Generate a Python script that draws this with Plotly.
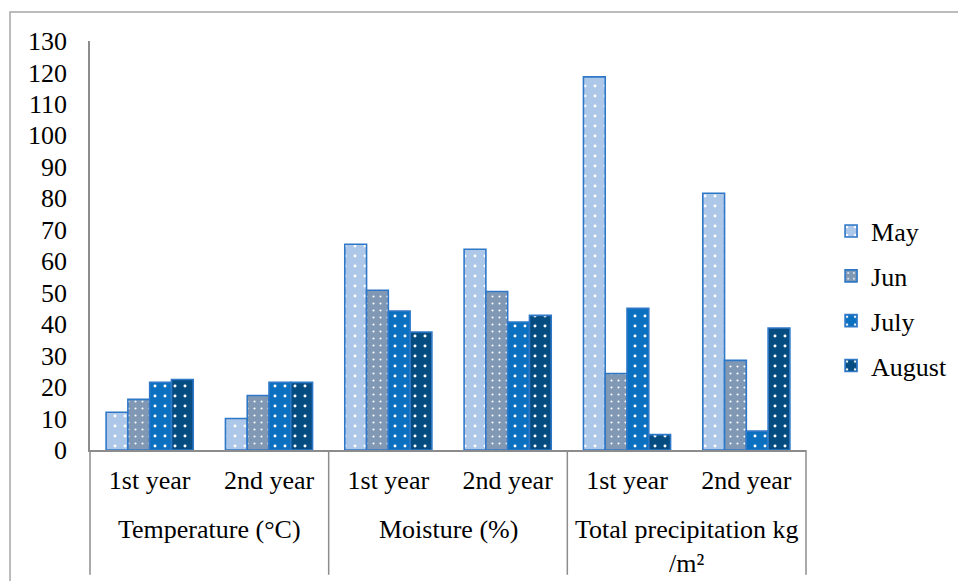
import plotly.graph_objects as go

# Two-level categories: measured parameter and season year
parameters = ["Temperature (°C)", "Moisture (%)", "Total precipitation kg<br>/m²"]
years = ["1st year", "2nd year"]

# Monthly values per parameter/year (order: param1-y1, param1-y2, ...)
may = [12.0, 10.0, 65.4, 63.8, 118.6, 81.6]
jun = [16.1, 17.3, 50.8, 50.4, 24.3, 28.5]
july = [21.5, 21.5, 44.2, 40.7, 45.0, 6.0]
august = [22.4, 21.5, 37.5, 42.8, 4.9, 38.8]

months = ["May", "Jun", "July", "August"]
series = [may, jun, july, august]
fills = ["#adc7e9", "#8098b4", "#0a70bf", "#054c80"]
dot_sizes = [10, 7, 10, 10]

FONT = "Liberation Serif"
AXIS_GREY = "#8c8c8c"

# one x category per parameter/year pair, labelled by year only
keys = [f"{p}|{y}" for p in parameters for y in years]
key_text = [y for _ in parameters for y in years]

fig = go.Figure()
for name, vals, col, ds in zip(months, series, fills, dot_sizes):
    fig.add_trace(go.Bar(
        name=name,
        x=keys,
        y=vals,
        legendgroup=name,
        marker=dict(
            color=col,
            line=dict(color="#2f78c8", width=1.6),
            pattern=dict(shape=".", fgcolor="white", bgcolor=col,
                         size=ds, solidity=0.07, fillmode="replace"),
        ),
    ))

# Parameter names under the year labels, separated by divider lines
n = len(parameters)
for i, p in enumerate(parameters):
    fig.add_annotation(x=(2 * i + 1) / (2 * n), y=-0.155, xref="paper", yref="paper",
                       text=p, showarrow=False, xanchor="center", yanchor="top",
                       font=dict(family=FONT, size=26, color="black"))
for i in range(n + 1):
    fig.add_shape(type="line", xref="paper", yref="paper",
                  x0=i / n, x1=i / n, y0=0, y1=-0.305,
                  line=dict(color=AXIS_GREY, width=1.5))

# Outer chart frame
fig.add_shape(type="rect", xref="paper", yref="paper",
              x0=(10 - 90) / 716, x1=2.0, y0=-1.0, y1=(449.5 - 12) / 408.5,
              line=dict(color="#a6a6a6", width=1.5), fillcolor="rgba(0,0,0,0)",
              layer="below")

fig.update_layout(
    width=958, height=581,
    margin=dict(l=90, r=152, t=41, b=131, autoexpand=False),
    paper_bgcolor="white", plot_bgcolor="white",
    font=dict(family=FONT, size=26, color="black"),
    barmode="group", bargap=0.27, bargroupgap=0,
    showlegend=True,
    legend=dict(x=1.035, xanchor="left", y=0.37, yanchor="middle",
                traceorder="grouped", tracegroupgap=8,
                font=dict(family=FONT, size=26, color="black"),
                bgcolor="rgba(0,0,0,0)", itemwidth=30),
    xaxis=dict(type="category", tickvals=keys, ticktext=key_text,
               showline=True, linecolor=AXIS_GREY, linewidth=1.5,
               showgrid=False, ticks="", ticklabelstandoff=6,
               tickfont=dict(family=FONT, size=26, color="black")),
    yaxis=dict(range=[0, 130], dtick=10, tick0=0, showline=True,
               linecolor=AXIS_GREY, linewidth=1.5, showgrid=False,
               zeroline=False, ticks="", ticklabelstandoff=16,
               tickfont=dict(family=FONT, size=26, color="black")),
)

fig.write_html("out.html")
